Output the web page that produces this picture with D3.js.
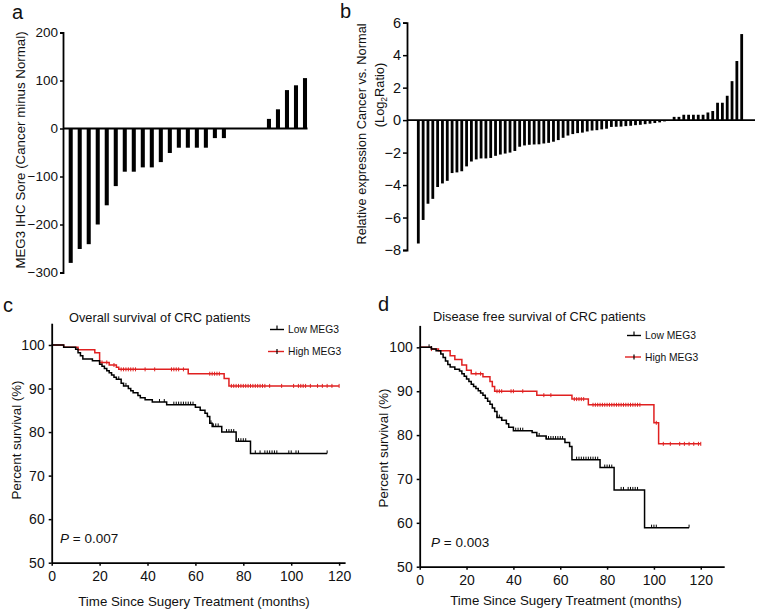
<!DOCTYPE html>
<html><head><meta charset="utf-8">
<script src="https://cdn.jsdelivr.net/npm/d3@7"></script>
<style>
body{margin:0;background:#fff;}
svg{display:block;font-family:Arial,"Liberation Sans",sans-serif;}
.tick text{font-family:Arial,"Liberation Sans",sans-serif;}
</style></head>
<body><svg id="c" width="758" height="612"></svg>
<script>
// ---- DATA ----
const ihcScores = [-280,-251,-241,-200,-160,-120,-90,-90,-81,-81,-70,-51,-40,-40,-40,-40,-20,-20,0,0,0,0,20,40,80,90,105];
const ihcTicks = [200,100,0,-100,-200,-300];

const exprRatio = [-7.6,-6.15,-5.15,-4.85,-4.12,-3.9,-3.74,-3.26,-3.22,-3.15,-2.85,-2.55,-2.42,-2.36,-2.36,-2.33,-2.2,-2.12,-2.06,-2.0,-1.9,-1.64,-1.56,-1.52,-1.5,-1.49,-1.44,-1.4,-1.33,-1.23,-1.09,-0.95,-0.86,-0.8,-0.77,-0.7,-0.64,-0.62,-0.57,-0.53,-0.42,-0.41,-0.4,-0.37,-0.35,-0.31,-0.29,-0.25,-0.22,-0.18,-0.14,-0.08,-0.04,
  0.2,0.2,0.33,0.33,0.33,0.33,0.33,0.47,0.56,1.07,1.07,1.5,2.4,3.64,5.3];
const exprTicks = [6,4,2,0,-2,-4,-6,-8];

const kmTicksX = [0,20,40,60,80,100,120];
const kmTicksY = [50,60,70,80,90,100];

// Overall survival (c)
const osLowSteps = [[0,100],[5,99.5],[10,99],[11,98.2],[12,97.5],[13,96.8],[17,96.4],[20,95.6],[21,95.1],[22,94.6],[23,94.1],[24,93.6],[25,93.1],[26,92.6],[27,92.1],[29,91.2],[30,90.6],[32,90.0],[33,89.5],[34,89.0],[36,88.4],[37,87.9],[39,87.4],[42,86.9],[48,86.3],[60,85.7],[62,85.0],[64,84.3],[65,83.6],[66,82.0],[67,81.3],[71,80.0],[77,77.9],[83,75.1]];
const osLowEnd = 115;
const osLowCensor = [28,31,45,47,51,52,53,54,55,56,57,58,59,66.5,67.5,68.5,69.5,73,74,75,76,78,79,80,81,85,87,89,90,91,92,93,94,99,100,102,103,115];
const osHighSteps = [[0,100],[5,99.5],[11,98.9],[18,98.2],[20,96.0],[24,95.4],[27,94.9],[28,94.4],[57,93.4],[72,92.3],[74,90.6]];
const osHighEnd = 120;
const osHighCensor = [21,23,26,29,30,31,32,33,34,35,39,43,50,51,52,53,55,66,67,68,69,70,75,76,77,78,79,80,81,82,83,84,85,86,87,88,89,91,96,101,103,104,105,106,108,111,113,115,117,120];

// Disease free survival (d)
const dfsLowSteps = [[0,100],[5,99.6],[7,99.2],[9,98.5],[10,97.7],[11,96.9],[12,96.1],[13,95.5],[15,95.0],[17,94.6],[18,94.0],[19,93.4],[20,92.8],[21,92.2],[22,91.6],[23,91.1],[24,90.6],[25,90.1],[26,89.6],[27,89.1],[28,88.4],[29,87.7],[30,87.0],[31,86.2],[32,85.4],[33,84.0],[35,83.4],[37,82.6],[38,81.8],[40,81.0],[48,80.6],[50,79.8],[54,79.1],[62,78.3],[64,77.4],[65,74.4],[77,72.6],[83,67.5],[96,58.9]];
const dfsLowEnd = 115;
const dfsLowCensor = [4,5,33,34,35,37,41,42,43,44,51,54,55,56,57,58,59,60,61,67,68,69,70,71,72,73,74,75,76,79,80,81,82,86,87,89,90,91,92,93,99,100,101,115];
const dfsHighSteps = [[0,100],[5,99.6],[8,99.2],[13,98.1],[15,97.2],[18,96.0],[20,94.8],[22,94.0],[27,93.3],[30,92.2],[31,91.1],[32,90.0],[50,89.1],[65,88.2],[72,86.9],[100,82.8],[102,78.0]];
const dfsHighEnd = 120;
const dfsHighCensor = [5,24,26,33,34,35,39,40,44,53,56,66,67,68,69,70,74,75,76,77,78,79,80,81,82,83,84,85,86,87,88,89,90,91,92,93,94,101,104,107,111,113,115,117,119,120];

const RED = "#e02020";
const svg = d3.select("#c");
const FONT = 'Arial,"Liberation Sans",sans-serif';

function styleAxis(g, fs){
  g.selectAll("path.domain").attr("stroke","#000").attr("stroke-width",1.8);
  g.selectAll(".tick line").attr("stroke","#000").attr("stroke-width",1.5);
  g.selectAll(".tick text").attr("font-size",fs).attr("fill","#111").attr("font-family",FONT);
}
function panelLetter(t,x,y){
  svg.append("text").attr("x",x).attr("y",y).attr("font-size",20).attr("font-family",FONT).attr("fill","#111").text(t);
}

// ---- Panel a ----
{
  const x = d3.scaleBand().domain(d3.range(ihcScores.length)).range([66.2,309.5]).paddingInner(0.55).paddingOuter(0.275);
  const y = d3.scaleLinear().domain([-300,200]).range([272.5,32.5]);
  svg.append("g").selectAll("rect").data(ihcScores).join("rect")
    .attr("x",(d,i)=>x(i)).attr("width",x.bandwidth())
    .attr("y",d=>y(Math.max(0,d))).attr("height",d=>Math.abs(y(d)-y(0)))
    .attr("fill","#000");
  const ga = svg.append("g").attr("transform","translate(63,0)")
    .call(d3.axisLeft(y).tickValues(ihcTicks).tickSize(3).tickPadding(2).tickSizeOuter(3));
  styleAxis(ga,13.5);
  svg.append("line").attr("x1",63).attr("x2",307.5).attr("y1",y(0)).attr("y2",y(0)).attr("stroke","#000").attr("stroke-width",1.8);
  svg.append("text").attr("transform","translate(25,150) rotate(-90)").attr("text-anchor","middle")
    .attr("font-size",13.3).attr("font-family",FONT).attr("fill","#111").text("MEG3 IHC Sore (Cancer minus Normal)");
  panelLetter("a",12,19);
}

// ---- Panel b ----
{
  const x = d3.scaleBand().domain(d3.range(exprRatio.length)).range([415.9,744.1]).paddingInner(0.42).paddingOuter(0.21);
  const y = d3.scaleLinear().domain([-8,6]).range([250,22.7]);
  svg.append("g").selectAll("rect").data(exprRatio).join("rect")
    .attr("x",(d,i)=>x(i)).attr("width",x.bandwidth())
    .attr("y",d=>y(Math.max(0,d))).attr("height",d=>Math.max(0.6,Math.abs(y(d)-y(0))))
    .attr("fill","#000");
  const gb = svg.append("g").attr("transform","translate(407,0)")
    .call(d3.axisLeft(y).tickValues(exprTicks).tickFormat(d3.format("d")).tickSize(4).tickPadding(2).tickSizeOuter(4));
  styleAxis(gb,14.5);
  svg.append("line").attr("x1",407).attr("x2",755).attr("y1",y(0)).attr("y2",y(0)).attr("stroke","#000").attr("stroke-width",1.8);
  svg.append("text").attr("transform","translate(366,134) rotate(-90)").attr("text-anchor","middle")
    .attr("font-size",12.8).attr("font-family",FONT).attr("fill","#111").text("Relative expression Cancer vs. Normal");
  const t2 = svg.append("text").attr("transform","translate(384,95) rotate(-90)").attr("text-anchor","middle")
    .attr("font-size",12.8).attr("font-family",FONT).attr("fill","#111");
  t2.append("tspan").text("(Log");
  t2.append("tspan").attr("font-size",8.5).attr("dy",3).text("2");
  t2.append("tspan").attr("dy",-3).text("Ratio)");
  panelLetter("b",340,18);
}

// ---- KM panels ----
function stepValue(steps,t){
  let v = steps[0][1];
  for(const s of steps){ if(s[0]<=t) v=s[1]; }
  return v;
}
function kmPanel(o){
  const x = d3.scaleLinear().domain([0,o.xMax]).range([o.x0,o.x1]);
  const y = d3.scaleLinear().domain([50,105]).range([o.y0,o.y1]);
  const g = svg.append("g");
  const line = d3.line().x(d=>x(d[0])).y(d=>y(d[1])).curve(d3.curveStepAfter);
  const curves = [
    {steps:o.high, end:o.highEnd, cens:o.highC, color:RED, up:2, down:2},
    {steps:o.low, end:o.lowEnd, cens:o.lowC, color:"#000", up:3, down:0}
  ];
  curves.forEach(c=>{
    const pts = c.steps.concat([[c.end, c.steps[c.steps.length-1][1]]]);
    g.append("path").attr("d",line(pts)).attr("fill","none").attr("stroke",c.color).attr("stroke-width",1.5);
    g.append("g").selectAll("line").data(c.cens).join("line")
      .attr("x1",d=>x(d)).attr("x2",d=>x(d))
      .attr("y1",d=>y(stepValue(c.steps,d))-c.up).attr("y2",d=>y(stepValue(c.steps,d))+c.down)
      .attr("stroke",c.color).attr("stroke-width",1);
  });
  const gx = svg.append("g").attr("transform",`translate(0,${o.y0})`)
    .call(d3.axisBottom(x).tickValues(kmTicksX).tickSize(3).tickPadding(5).tickSizeOuter(0));
  styleAxis(gx,14);
  const gy = svg.append("g").attr("transform",`translate(${o.x0},0)`)
    .call(d3.axisLeft(y).tickValues(kmTicksY).tickSize(3).tickPadding(4).tickSizeOuter(0));
  styleAxis(gy,14);
  svg.append("text").attr("x",o.xtX).attr("y",o.xtY).attr("text-anchor","middle").attr("font-size",13.3)
    .attr("font-family",FONT).attr("fill","#111").text("Time Since Sugery Treatment (months)");
  svg.append("text").attr("transform",`translate(${o.ytX},${o.ytY}) rotate(-90)`).attr("text-anchor","middle")
    .attr("font-size",13.3).attr("font-family",FONT).attr("fill","#111").text("Percent survival (%)");
  svg.append("text").attr("x",o.tX).attr("y",o.tY).attr("font-size",12.8).attr("font-family",FONT).attr("fill","#111").text(o.title);
  const p = svg.append("text").attr("x",o.pX).attr("y",o.pY).attr("font-size",13.5).attr("font-family",FONT).attr("fill","#111");
  p.append("tspan").attr("font-style","italic").text("P");
  p.append("tspan").text(" = "+o.pval);
  // legend
  const L = o.leg;
  svg.append("line").attr("x1",L.x).attr("x2",L.x+14).attr("y1",L.y1).attr("y2",L.y1).attr("stroke","#000").attr("stroke-width",1.4);
  svg.append("line").attr("x1",L.x+7).attr("x2",L.x+7).attr("y1",L.y1-4).attr("y2",L.y1).attr("stroke","#000").attr("stroke-width",1.2);
  svg.append("text").attr("x",L.x+18).attr("y",L.y1+3.5).attr("font-size",10.3).attr("font-family",FONT).attr("fill","#111").text("Low MEG3");
  svg.append("line").attr("x1",L.x-2).attr("x2",L.x+14).attr("y1",L.y2).attr("y2",L.y2).attr("stroke",RED).attr("stroke-width",1.4);
  svg.append("line").attr("x1",L.x+7).attr("x2",L.x+7).attr("y1",L.y2-2.5).attr("y2",L.y2+2.5).attr("stroke","#000").attr("stroke-width",1.2);
  svg.append("text").attr("x",L.x+18).attr("y",L.y2+3.5).attr("font-size",10.3).attr("font-family",FONT).attr("fill","#111").text("High MEG3");
}

kmPanel({x0:51.7,x1:345.1,xMax:122.5,y0:562.7,y1:323.2,
  low:osLowSteps,lowEnd:osLowEnd,lowC:osLowCensor,high:osHighSteps,highEnd:osHighEnd,highC:osHighCensor,
  xtX:194,xtY:606,ytX:21,ytY:440,tX:69,tY:322,title:"Overall survival of CRC patients",
  pX:60,pY:543,pval:"0.007",leg:{x:270,y1:329.5,y2:351.5}});
panelLetter("c",3,312);

kmPanel({x0:419.7,x1:724.2,xMax:130,y0:566.7,y1:325.4,
  low:dfsLowSteps,lowEnd:dfsLowEnd,lowC:dfsLowCensor,high:dfsHighSteps,highEnd:dfsHighEnd,highC:dfsHighCensor,
  xtX:566,xtY:605,ytX:388,ytY:448,tX:433,tY:321,title:"Disease free survival of CRC patients",
  pX:431,pY:547,pval:"0.003",leg:{x:627,y1:335.5,y2:357}});
panelLetter("d",378,311);
</script></body></html>
